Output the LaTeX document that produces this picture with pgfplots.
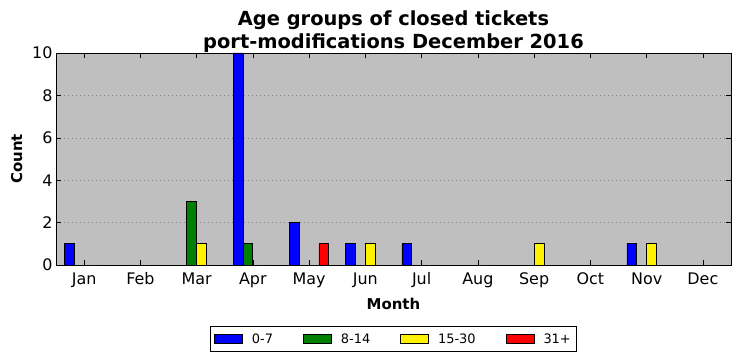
\documentclass[border=0pt]{standalone}
\usepackage{pgfplots}
\pgfplotsset{compat=1.18}
\usepackage{fontspec}
\setmainfont{DejaVu Sans}
\definecolor{mgreen}{RGB}{0,128,0}
\definecolor{mbg}{RGB}{191,191,191}
\pgfplotstableread{
x a b c d
1 1 0 0 0
2 0 0 0 0
3 0 3 1 0
4 10 1 0 0
5 2 0 0 1
6 1 0 1 0
7 1 0 0 0
8 0 0 0 0
9 0 0 1 0
10 0 0 0 0
11 1 0 1 0
12 0 0 0 0
}\data
\begin{document}
\begin{tikzpicture}
\useasboundingbox (-56bp,-96bp) rectangle (684bp,265bp);
\begin{axis}[
  at={(0,0)}, anchor=south west,
  width=675bp, height=212bp, scale only axis,
  xmin=0.5, xmax=12.5, ymin=0, ymax=10,
  xtick={1,...,12},
  xticklabels={Jan,Feb,Mar,Apr,May,Jun,Jul,Aug,Sep,Oct,Nov,Dec},
  ytick={0,2,...,10},
  /pgf/number format/assume math mode=true,
  tick align=inside, tick pos=both, major tick length=5bp,
  tick style={black, line width=0.6bp},
  axis line style={line width=0.8bp},
  ymajorgrids,
  grid style={black!50, line width=0.6bp, dash pattern=on 1bp off 3bp},
  axis background/.style={fill=mbg},
  tick label style={font=\fontsize{16}{19}\selectfont},
  xticklabel style={yshift=-4bp},
  title={Age groups of closed tickets\\port-modifications December 2016},
  title style={font=\bfseries\fontsize{19.5}{23}\selectfont, align=center, yshift=-9bp},
  xlabel={Month}, ylabel={Count},
  label style={font=\bfseries\fontsize{15}{18}\selectfont},
  xlabel style={yshift=-3bp},
  ylabel style={yshift=3bp},
  legend style={at={(0.5,-0.288)}, anchor=north, legend columns=4,
    draw=black, line width=0.8bp, font=\fontsize{13}{15}\selectfont,
    inner xsep=4bp, inner ysep=5bp,
    /tikz/every odd column/.append style={column sep=7bp},
    /tikz/every even column/.append style={column sep=28bp}},
  legend image code/.code={\draw[#1, line width=0.8bp] (0bp,-4.5bp) rectangle (28bp,4.5bp);},
]
\addplot[ybar, bar width=0.175, bar shift=-0.2625, fill=blue, draw=black, line width=0.8bp] table[x=x,y=a]{\data};
\addplot[ybar, bar width=0.175, bar shift=-0.0875, fill=mgreen, draw=black, line width=0.8bp] table[x=x,y=b]{\data};
\addplot[ybar, bar width=0.175, bar shift=0.0875, fill=yellow, draw=black, line width=0.8bp] table[x=x,y=c]{\data};
\addplot[ybar, bar width=0.175, bar shift=0.2625, fill=red, draw=black, line width=0.8bp] table[x=x,y=d]{\data};
\legend{0-7,8-14,15-30,31+}
\end{axis}
\end{tikzpicture}
\end{document}
